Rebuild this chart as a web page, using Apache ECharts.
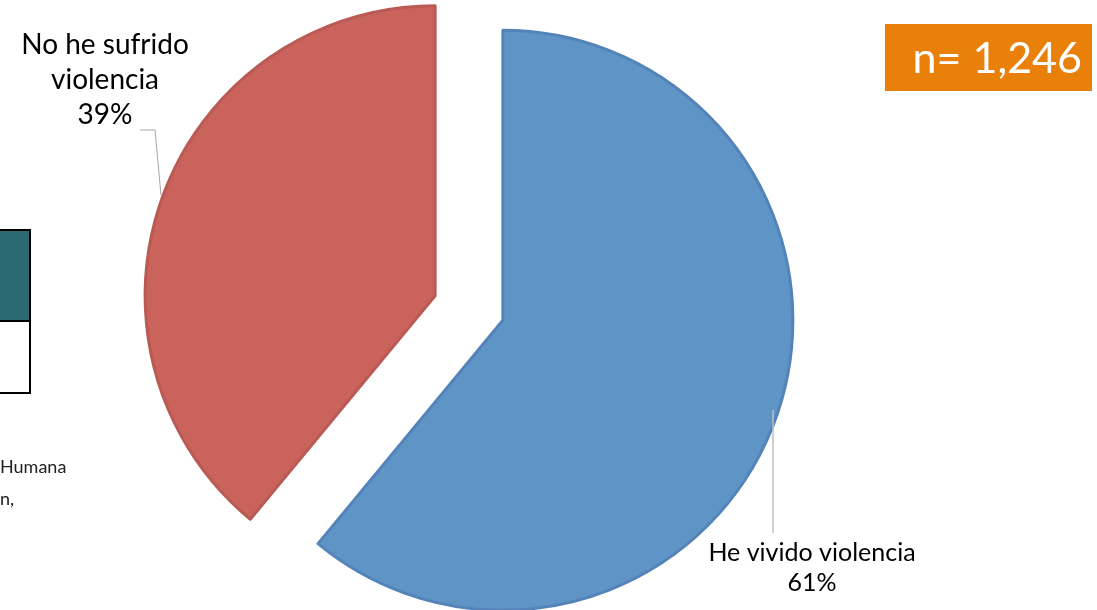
<!DOCTYPE html>
<html><head><meta charset="utf-8">
<script src="https://cdn.jsdelivr.net/npm/echarts@6/dist/echarts.min.js"></script>
<style>html,body{margin:0;padding:0;background:#fff}#c{width:1097px;height:610px}</style>
</head><body><div id="c"></div>
<script>
const categories = ['He vivido violencia', 'No he sufrido violencia'];
const labelNames = ['He vivido violencia', 'No he sufrido\nviolencia'];
const values = [61, 39];
const sampleText = 'n= 1,246';
const colors = ['#5F95C6', '#CA635C'];
const borders = ['#5483B9', '#B95A55'];

const FONT = 'Lato, "Open Sans", sans-serif';
const total = values.reduce((a, b) => a + b, 0);
const pct = values.map(v => Math.round(v / total * 100) + '%');

// label placement (style only)
const labelPos = [
  {x: 812, y: 568, size: 25, lh: 30},
  {x: 105, y: 80, size: 28, lh: 35}
];
const labelGraphics = values.map((v, i) => ({
  type: 'text', x: labelPos[i].x, y: labelPos[i].y,
  style: {text: labelNames[i] + '\n' + pct[i], font: labelPos[i].size + 'px ' + FONT,
    lineHeight: labelPos[i].lh, fill: '#000', align: 'center', verticalAlign: 'middle'}
}));

const chart = echarts.init(document.getElementById('c'));
chart.setOption({
  animation: false,
  graphic: [
    {type:'rect', shape:{x:-2, y:230, width:32, height:91}, style:{fill:'#2C6A73', stroke:'#000', lineWidth:2}},
    {type:'rect', shape:{x:-2, y:321, width:32, height:72}, style:{fill:'#fff', stroke:'#000', lineWidth:2}},
    {type:'text', left:0, top:458, style:{text:'Humana', font:'18px '+FONT, fill:'#222'}},
    {type:'text', left:0, top:490, style:{text:'n,', font:'18px '+FONT, fill:'#222'}},
    {type:'rect', shape:{x:885, y:24, width:207, height:67}, style:{fill:'#E8800A'}},
    {type:'text', x:1082, y:59, style:{text:sampleText, font:'43px '+FONT, fill:'#fff', align:'right', verticalAlign:'middle'}},
    {type:'polyline', shape:{points:[[161,195],[155,130],[140,130]]}, style:{stroke:'#A6A6A6', lineWidth:1, fill:null}, z:10},
    {type:'line', shape:{x1:773, y1:410, x2:773, y2:533}, style:{stroke:'#BFBFBF', lineWidth:1.5}, z:10}
  ].concat(labelGraphics),
  series: [{
    type: 'pie',
    center: [469, 308],
    radius: 290,
    startAngle: 90,
    clockwise: true,
    selectedMode: 'multiple',
    selectedOffset: 36,
    select: {itemStyle: {}},
    emphasis: {disabled: true},
    data: categories.map((c, i) => ({
      name: c, value: values[i], selected: true,
      itemStyle: {color: colors[i], borderColor: borders[i], borderWidth: 3}
    })),
    label: {show: false},
    labelLine: {show: false}
  }]
});
</script></body></html>
